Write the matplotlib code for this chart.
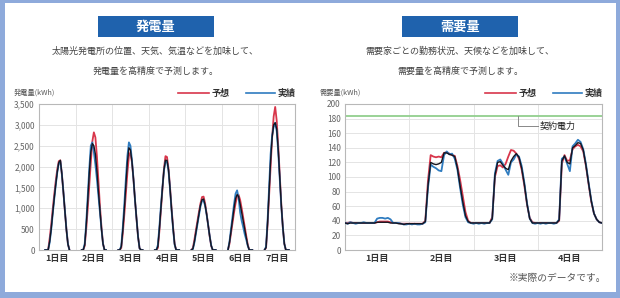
import matplotlib
matplotlib.use("Agg")
import matplotlib.pyplot as plt
from matplotlib.patches import Rectangle

plt.rcParams['font.family'] = ['Noto Sans CJK JP', 'DejaVu Sans']

# ---- 発電量 (hourly values, hours 4..20 of each day) ----
gen_hours = list(range(4, 21))
gen_days = ['1日目', '2日目', '3日目', '4日目', '5日目', '6日目', '7日目']
gen_forecast = [
    [0, 0, 0, 280, 600, 980, 1330, 1660, 1940, 2130, 2150, 1820, 1390, 930, 490, 140, 0],
    [0, 0, 100, 500, 1000, 1550, 2100, 2600, 2820, 2700, 2250, 1650, 1050, 550, 150, 0, 0],
    [0, 0, 50, 400, 850, 1350, 1850, 2250, 2340, 2100, 1700, 1200, 750, 320, 40, 0, 0],
    [0, 0, 50, 450, 950, 1450, 1950, 2250, 2230, 1950, 1500, 1000, 550, 150, 0, 0, 0],
    [0, 50, 250, 480, 700, 920, 1120, 1270, 1280, 1120, 870, 600, 330, 100, 0, 0, 0],
    [0, 150, 400, 650, 900, 1120, 1280, 1320, 1200, 1000, 780, 560, 340, 130, 0, 0, 0],
    [0, 50, 600, 1300, 2000, 2700, 3200, 3430, 3100, 2500, 1800, 1100, 550, 150, 0, 0, 0],
]
gen_actual = [
    [0, 0, 0, 180, 480, 860, 1220, 1560, 1860, 2080, 2130, 1820, 1400, 940, 490, 140, 0],
    [0, 0, 150, 650, 1300, 1950, 2500, 2580, 2350, 2050, 1700, 1300, 900, 500, 150, 0, 0],
    [0, 0, 100, 550, 1100, 1700, 2250, 2580, 2500, 2150, 1700, 1200, 750, 320, 40, 0, 0],
    [0, 0, 120, 550, 1050, 1500, 1900, 2130, 2120, 1900, 1450, 950, 500, 130, 0, 0, 0],
    [0, 20, 180, 400, 620, 840, 1050, 1180, 1190, 1060, 850, 600, 340, 110, 0, 0, 0],
    [0, 200, 500, 800, 1100, 1350, 1430, 1250, 900, 700, 550, 380, 250, 100, 0, 0, 0],
    [0, 80, 700, 1500, 2300, 2750, 2950, 3050, 2850, 2350, 1700, 1050, 550, 150, 0, 0, 0],
]
gen_dark = [
    [0, 0, 0, 200, 500, 880, 1240, 1570, 1870, 2100, 2150, 1830, 1390, 930, 480, 140, 0],
    [0, 0, 120, 600, 1200, 1850, 2350, 2550, 2500, 2300, 1900, 1400, 950, 500, 150, 0, 0],
    [0, 0, 80, 480, 980, 1550, 2100, 2450, 2400, 2120, 1700, 1200, 750, 320, 40, 0, 0],
    [0, 0, 80, 500, 1000, 1480, 1920, 2150, 2150, 1920, 1470, 970, 520, 140, 0, 0, 0],
    [0, 30, 200, 430, 650, 870, 1080, 1210, 1220, 1080, 860, 600, 335, 105, 0, 0, 0],
    [0, 180, 450, 720, 1000, 1230, 1330, 1280, 1100, 900, 700, 500, 300, 110, 0, 0, 0],
    [0, 60, 650, 1400, 2150, 2700, 3000, 3050, 2900, 2400, 1750, 1080, 550, 150, 0, 0, 0],
]
gen_yticks = [0, 500, 1000, 1500, 2000, 2500, 3000, 3500]

# ---- 需要量 (hourly values, hours 0..23 of each day) ----
dem_days = ['1日目', '2日目', '3日目', '4日目']
dem_forecast = [
    [37, 37, 38, 37, 37, 37, 37, 37, 37, 37, 37, 37, 38, 39, 39, 39, 39, 38, 37, 37, 37, 36, 36, 36],
    [36, 36, 36, 36, 36, 36, 40, 95, 130, 128, 127, 128, 127, 133, 134, 132, 130, 129, 115, 96, 74, 52, 40, 37],
    [37, 37, 37, 37, 37, 37, 37, 45, 100, 115, 116, 113, 118, 128, 137, 136, 132, 125, 110, 88, 62, 44, 38, 37],
    [37, 37, 37, 37, 37, 37, 37, 37, 40, 118, 130, 122, 123, 138, 142, 144, 142, 135, 115, 90, 66, 50, 42, 38],
]
dem_actual = [
    [37, 36, 38, 37, 36, 37, 37, 38, 37, 37, 37, 37, 43, 44, 44, 43, 44, 42, 37, 37, 37, 36, 35, 35],
    [36, 35, 36, 35, 35, 36, 38, 85, 117, 114, 112, 109, 108, 130, 135, 131, 132, 125, 110, 85, 62, 45, 38, 37],
    [36, 37, 36, 37, 36, 37, 37, 42, 105, 122, 124, 118, 110, 103, 120, 124, 131, 128, 115, 92, 64, 43, 37, 36],
    [37, 36, 37, 36, 37, 37, 36, 37, 42, 125, 128, 118, 108, 142, 146, 151, 148, 138, 118, 92, 68, 50, 42, 38],
]
dem_dark = [
    [37, 36, 37, 37, 37, 37, 37, 37, 37, 37, 37, 37, 38, 38, 38, 38, 38, 37, 37, 37, 36, 36, 35, 36],
    [36, 36, 36, 36, 36, 36, 39, 88, 120, 118, 117, 118, 120, 133, 133, 131, 130, 128, 112, 88, 66, 47, 39, 37],
    [37, 37, 37, 37, 37, 37, 37, 43, 102, 120, 121, 116, 112, 110, 122, 128, 132, 127, 112, 90, 63, 43, 37, 37],
    [37, 37, 37, 37, 37, 37, 37, 37, 41, 122, 129, 120, 118, 140, 143, 147, 146, 137, 116, 91, 67, 50, 42, 38],
]
dem_end = 37
contract_power = 184
dem_yticks = list(range(0, 201, 20))

RED = '#d8364b'
BLUE = '#2f7cc0'
DARK = '#15151f'
GRID = '#e4e4e4'
SPINE = '#b8b8b8'
TITLE_BG = '#1f62ad'

fig = plt.figure(figsize=(6.2, 2.98), dpi=100)
fig.patch.set_facecolor('#8eaadb')
fig.patches.append(Rectangle((5 / 620, 1 - 292 / 298), 611 / 620, 289 / 298,
                             transform=fig.transFigure, facecolor='white',
                             edgecolor='none', zorder=-2))


def style_axes(ax):
    for s in ax.spines.values():
        s.set_color(SPINE)
        s.set_linewidth(0.8)
    ax.tick_params(length=0, pad=3)
    ax.tick_params(axis='y', labelsize=6, labelcolor='#666666')
    ax.tick_params(axis='x', labelsize=6.5, labelcolor='#333333')
    for lbl in ax.get_xticklabels():
        lbl.set_fontweight('bold')
    ax.set_facecolor('white')


# left chart
ax1 = fig.add_axes([39 / 620, 48 / 298, 256 / 620, 146 / 298])
for d in range(len(gen_days)):
    xs = [d + h / 24 for h in gen_hours]
    ax1.plot(xs, gen_forecast[d], color=RED, lw=1.3, zorder=3)
    ax1.plot(xs, gen_actual[d], color=BLUE, lw=1.3, zorder=4)
    ax1.plot(xs, gen_dark[d], color=DARK, lw=1.0, zorder=5)
ax1.set_xlim(0, len(gen_days))
ax1.set_ylim(0, 3500)
ax1.set_yticks(gen_yticks)
ax1.set_yticklabels([f'{v:,}' for v in gen_yticks])
ax1.set_xticks([d + 0.5 for d in range(len(gen_days))])
ax1.set_xticklabels(gen_days)
for d in range(1, len(gen_days)):
    ax1.axvline(d, color=GRID, lw=0.7, zorder=1)
ax1.yaxis.grid(True, color=GRID, lw=0.7)
ax1.set_axisbelow(True)
style_axes(ax1)

# right chart
ax2 = fig.add_axes([345 / 620, 48 / 298, 257 / 620, 146 / 298])
xs = [d + h / 24 for d in range(len(dem_days)) for h in range(24)] + [len(dem_days)]
ax2.plot(xs, sum(dem_forecast, []) + [dem_end], color=RED, lw=1.3, zorder=3)
ax2.plot(xs, sum(dem_actual, []) + [dem_end], color=BLUE, lw=1.3, zorder=4)
ax2.plot(xs, sum(dem_dark, []) + [dem_end], color=DARK, lw=1.0, zorder=5)
ax2.axhline(contract_power, color='#92cf8e', lw=1.3, zorder=2)
ax2.set_xlim(0, len(dem_days))
ax2.set_ylim(0, 200)
ax2.set_yticks(dem_yticks)
ax2.set_xticks([d + 0.5 for d in range(len(dem_days))])
ax2.set_xticklabels(dem_days)
for d in range(1, len(dem_days)):
    ax2.axvline(d, color=GRID, lw=0.7, zorder=1)
ax2.yaxis.grid(True, color=GRID, lw=0.7)
ax2.set_axisbelow(True)
style_axes(ax2)

# 契約電力 annotation
ax2.plot([2.69, 2.69, 3.0], [contract_power, 170, 170], color='#888888', lw=0.7, zorder=2)
ax2.text(3.03, 170, '契約電力', fontsize=6.5, color='#222222', va='center', ha='left')

# headers
for cx, title, lines in [(155.5, '発電量', ['太陽光発電所の位置、天気、気温などを加味して、', '発電量を高精度で予測します。']),
                         (460, '需要量', ['需要家ごとの勤務状況、天候などを加味して、', '需要量を高精度で予測します。'])]:
    fig.patches.append(Rectangle(((cx - 58) / 620, 1 - 37 / 298), 116 / 620, 21 / 298,
                                 transform=fig.transFigure, facecolor=TITLE_BG,
                                 edgecolor='none', zorder=-1))
    fig.text(cx / 620, 1 - 26.5 / 298, title, fontsize=9.5, fontweight='bold',
             color='white', ha='center', va='center')
    fig.text(cx / 620, 1 - 51 / 298, lines[0], fontsize=6.5, color='#444444', ha='center', va='center')
    fig.text(cx / 620, 1 - 71 / 298, lines[1], fontsize=6.5, color='#444444', ha='center', va='center')

# y-axis titles and legends
for x0, ylab in [(14, '発電量(kWh)'), (320, '需要量(kWh)')]:
    fig.text(x0 / 620, 1 - 93 / 298, ylab, fontsize=5.2, color='#555555', ha='left', va='center')
for off in [0, 307]:
    y = 1 - 93 / 298
    fig.add_artist(plt.Line2D([(178 + off) / 620, (209 + off) / 620], [y, y], color=RED, lw=1.2))
    fig.text((212 + off) / 620, y, '予想', fontsize=6.5, fontweight='bold', color='#333333', ha='left', va='center')
    fig.add_artist(plt.Line2D([(246 + off) / 620, (275 + off) / 620], [y, y], color=BLUE, lw=1.2))
    fig.text((278 + off) / 620, y, '実績', fontsize=6.5, fontweight='bold', color='#333333', ha='left', va='center')

fig.text(606 / 620, 1 - 278 / 298, '※実際のデータです。', fontsize=7, color='#555555', ha='right', va='center')

plt.savefig('out.png', dpi=100)
